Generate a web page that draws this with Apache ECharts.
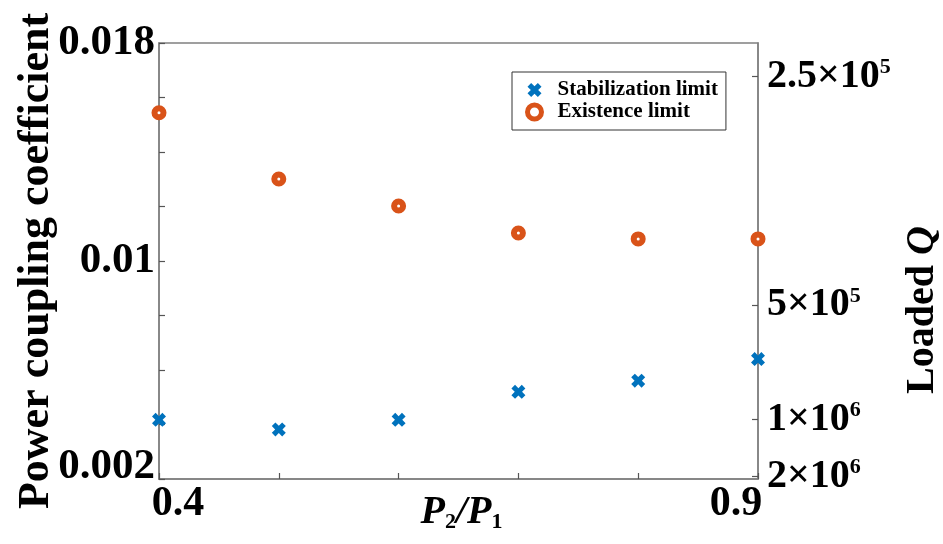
<!DOCTYPE html>
<html>
<head>
<meta charset="utf-8">
<script src="https://cdn.jsdelivr.net/npm/echarts@6/dist/echarts.min.js"></script>
<style>
  html, body { margin: 0; padding: 0; background: #fff; }
  #chart { width: 943px; height: 544px; }
</style>
</head>
<body>
<div id="chart"></div>
<script>
// Power ratio P2/P1 on the horizontal axis
const pRatio = [0.4, 0.5, 0.6, 0.7, 0.8, 0.9];
// Power coupling coefficient at each limit
const stabilizationLimit = [0.00417, 0.00382, 0.00417, 0.00520, 0.00561, 0.00640];
const existenceLimit = [0.01544, 0.01301, 0.01202, 0.01103, 0.01081, 0.01081];

// Left axis ticks and labelled values
const kappaTicks = [0.002, 0.004, 0.006, 0.008, 0.010, 0.012, 0.014, 0.016, 0.018];
const kappaLabels = [0.002, 0.01, 0.018];
// Bottom axis ticks and labelled values
const ratioTicks = [0.4, 0.5, 0.6, 0.7, 0.8, 0.9];
const ratioLabels = [0.4, 0.9];
// Loaded Q marks on the right axis
const loadedQTicks = [2.5e5, 5e5, 1e6, 2e6];
const loadedQLabels = ['{m|2.5×10}{s|5}', '{m|5×10}{s|5}', '{m|1×10}{s|6}', '{m|2×10}{s|6}'];
// kappa * Q_L: the right axis is linear in 1/Q_L
const kappaTimesQ = 4191;

const FONT = 'Liberation Serif';
const AXIS_GREY = '#808080';

const kappaMin = kappaTicks[0];
const kappaMax = kappaTicks[kappaTicks.length - 1];

const chart = echarts.init(document.getElementById('chart'), null, { renderer: 'canvas' });

// thick diagonal cross
const markX = 'path://M0,2.6L2.6,0L5,2.4L7.4,0L10,2.6L7.6,5L10,7.4L7.4,10L5,7.6L2.6,10L0,7.4L2.4,5Z';

chart.setOption({
  animation: false,
  backgroundColor: '#fff',
  grid: {
    left: 159, right: 185, top: 43, bottom: 65,
    containLabel: false,
    outerBoundsMode: 'none',
    show: true, borderColor: AXIS_GREY, borderWidth: 1.5, backgroundColor: 'transparent'
  },
  legend: {
    orient: 'vertical',
    left: 512, top: 72,
    padding: [7, 8, 7, 13],
    borderColor: '#333', borderWidth: 1,
    backgroundColor: '#fff',
    itemWidth: 14, itemHeight: 14, itemGap: 0,
    textStyle: {
      fontFamily: FONT, fontWeight: 'bold', fontSize: 21, color: '#000',
      lineHeight: 22, padding: [0, 0, 0, 11]
    },
    data: [
      { name: 'Stabilization limit' },
      { name: 'Existence limit', itemStyle: { borderWidth: 5 } }
    ]
  },
  xAxis: {
    type: 'value',
    min: 0.4, max: 0.9, interval: 0.1,
    name: '{i|P}{sb|2}{i|/P}{sb|1}',
    nameLocation: 'middle',
    nameGap: 14,
    nameMoveOverlap: false,
    nameTextStyle: {
      padding: [0, 0, 0, 6],
      rich: {
        i: { fontFamily: FONT, fontWeight: 'bold', fontStyle: 'italic', fontSize: 40, color: '#000' },
        sb: { fontFamily: FONT, fontWeight: 'bold', fontSize: 22, color: '#000', verticalAlign: 'bottom', padding: [14, 0, 0, 0] }
      }
    },
    axisLine: { lineStyle: { color: AXIS_GREY, width: 1.5 } },
    axisTick: { inside: true, length: 6, lineStyle: { color: '#555', width: 1.2 }, customValues: ratioTicks },
    splitLine: { show: false },
    axisLabel: {
      customValues: ratioLabels,
      margin: 4,
      formatter: function (v) {
        return Math.abs(v - ratioLabels[0]) < 1e-9 ? '{lo|' + v + '}' : '{hi|' + v + '}';
      },
      rich: {
        lo: { fontFamily: FONT, fontWeight: 'bold', fontSize: 42, color: '#000', padding: [0, 0, 0, 38] },
        hi: { fontFamily: FONT, fontWeight: 'bold', fontSize: 42, color: '#000', padding: [0, 44, 0, 0] }
      }
    }
  },
  yAxis: [
    {
      type: 'value',
      min: kappaMin, max: kappaMax, interval: 0.002,
      name: 'Power coupling coefficient',
      nameLocation: 'middle',
      nameRotate: 90,
      nameGap: 100,
      nameMoveOverlap: false,
      nameTextStyle: { fontFamily: FONT, fontWeight: 'bold', fontSize: 44, color: '#000' },
      axisLine: { show: true, lineStyle: { color: AXIS_GREY, width: 1.5 } },
      axisTick: { show: true, inside: true, length: 6, lineStyle: { color: '#555', width: 1.2 }, customValues: kappaTicks },
      splitLine: { show: false },
      axisLabel: {
        customValues: kappaLabels,
        margin: 4,
        formatter: function (v) {
          const txt = String(Math.round(v * 1000) / 1000);
          return Math.abs(v - kappaMin) < 1e-9 ? '{lo|' + txt + '}' : '{n|' + txt + '}';
        },
        rich: {
          n: { fontFamily: FONT, fontWeight: 'bold', fontSize: 43, color: '#000' },
          lo: { fontFamily: FONT, fontWeight: 'bold', fontSize: 43, color: '#000', padding: [0, 0, 24, 0] }
        }
      }
    },
    {
      type: 'value',
      position: 'right',
      min: kappaMin / kappaTimesQ,
      max: kappaMax / kappaTimesQ,
      name: '{t|Loaded }{q|Q}',
      nameLocation: 'middle',
      nameRotate: 90,
      nameGap: 145,
      nameMoveOverlap: false,
      nameTextStyle: {
        padding: [0, 98, 0, 0],
        rich: {
          t: { fontFamily: FONT, fontWeight: 'bold', fontSize: 40, color: '#000' },
          q: { fontFamily: FONT, fontWeight: 'bold', fontStyle: 'italic', fontSize: 40, color: '#000' }
        }
      },
      axisLine: { show: true, lineStyle: { color: AXIS_GREY, width: 1.5 } },
      axisTick: {
        show: true, inside: true, length: 6, lineStyle: { color: '#555', width: 1.2 },
        customValues: loadedQTicks.map(q => 1 / q)
      },
      splitLine: { show: false },
      axisLabel: {
        customValues: loadedQTicks.map(q => 1 / q),
        margin: 9,
        formatter: function (v) {
          let best = 0;
          loadedQTicks.forEach((q, i) => {
            if (Math.abs(1 / q - v) < Math.abs(1 / loadedQTicks[best] - v)) best = i;
          });
          return loadedQLabels[best];
        },
        rich: {
          m: { fontFamily: FONT, fontWeight: 'bold', fontSize: 40, color: '#000' },
          s: { fontFamily: FONT, fontWeight: 'bold', fontSize: 22, color: '#000', verticalAlign: 'top' }
        }
      }
    }
  ],
  series: [
    {
      name: 'Stabilization limit',
      type: 'scatter',
      yAxisIndex: 0,
      symbol: markX,
      symbolSize: 14,
      itemStyle: { color: '#0072BD', opacity: 1 },
      data: pRatio.map((p, i) => [p, stabilizationLimit[i]]),
      z: 3
    },
    {
      name: 'Existence limit',
      type: 'scatter',
      yAxisIndex: 0,
      symbol: 'circle',
      symbolSize: 9,
      itemStyle: { color: '#fff', borderColor: '#D95319', borderWidth: 6, opacity: 1 },
      data: pRatio.map((p, i) => [p, existenceLimit[i]]),
      z: 3
    }
  ]
});
</script>
</body>
</html>
